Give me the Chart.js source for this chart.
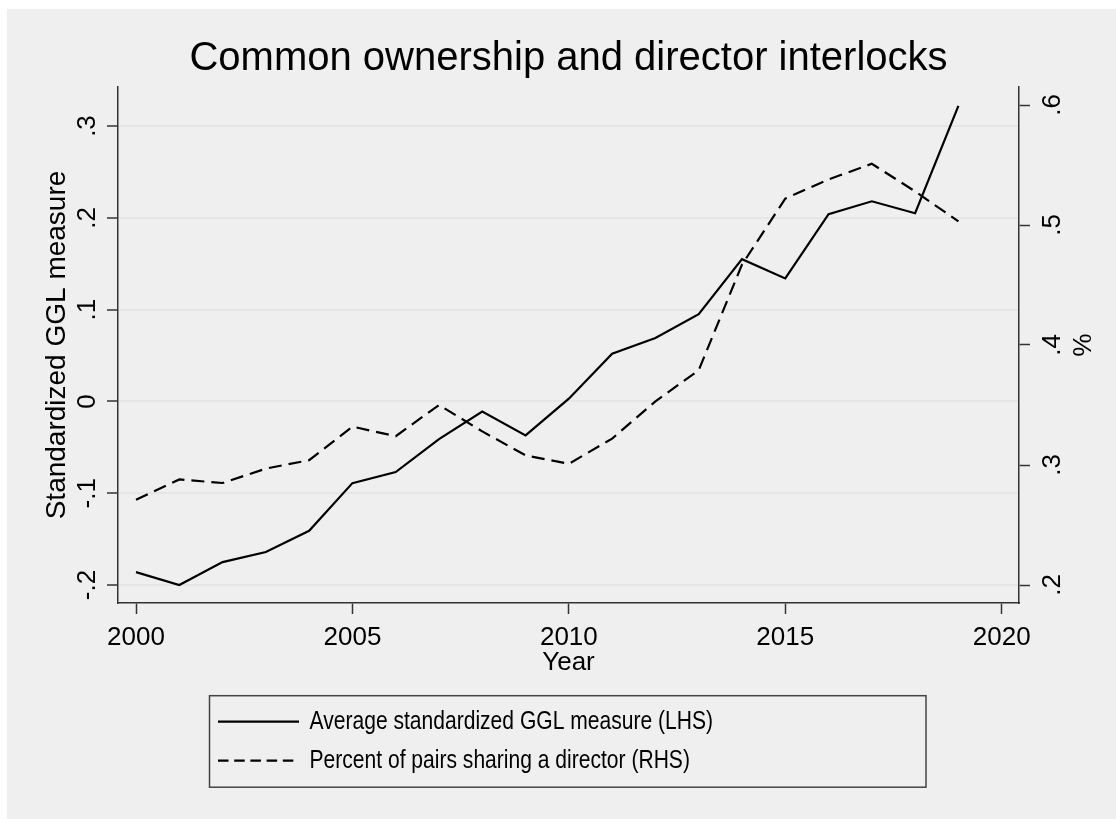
<!DOCTYPE html>
<html><head><meta charset="utf-8">
<script src="https://cdn.jsdelivr.net/npm/chart.js@4.4.0/dist/chart.umd.min.js"></script>
<style>
html,body{margin:0;padding:0;background:#fff;width:1116px;height:819px;overflow:hidden}
#wrap{position:absolute;left:7px;top:9px;width:1109px;height:810px;background:#efefef}
canvas{display:block}
</style></head><body>
<div id="wrap"><canvas id="c" width="1109" height="810"></canvas></div>
<script>
// ---- data ----
const years = [2000,2001,2002,2003,2004,2005,2006,2007,2008,2009,2010,2011,2012,2013,2014,2015,2016,2017,2018,2019];
const gglMeasure = [-0.186,-0.200,-0.175,-0.164,-0.141,-0.089,-0.077,-0.041,-0.011,-0.037,0.003,0.052,0.069,0.095,0.155,0.134,0.204,0.218,0.205,0.322];
const pctSharing = [0.271,0.288,0.285,0.297,0.304,0.332,0.324,0.350,0.328,0.308,0.301,0.322,0.353,0.379,0.467,0.522,0.538,0.551,0.528,0.503];
const xTicks = [2000,2005,2010,2015,2020];
const leftTicks = [-0.2,-0.1,0,0.1,0.2,0.3];
const leftTickLabels = ['-.2','-.1','0','.1','.2','.3'];
const rightTicks = [0.2,0.3,0.4,0.5,0.6];
const rightTickLabels = ['.2','.3','.4','.5','.6'];
const seriesNames = ['Average standardized GGL measure (LHS)','Percent of pairs sharing a director (RHS)'];
const chartTitle = 'Common ownership and director interlocks';

// ---- styles ----
const SANS = "'Liberation Sans', Arial, sans-serif";
const AXIS = '#333333';
const LEGEND_SQUEEZE = 0.81;   // legend text in the reference is a condensed face
const LEGEND_X0 = 211;
Chart.defaults.color = '#000';
Chart.defaults.font.family = SANS;

const legendFrame = {
  id: 'legendFrame',
  afterLayout(chart) {
    const lg = chart.legend;
    const h = lg.height;
    lg.left = LEGEND_X0 - 13; lg.right = lg.left + 721; lg.width = 721;
    lg.top = 686.7; lg.bottom = lg.top + h;
    if (!lg._squeezed) {
      const orig = lg.draw.bind(lg);
      lg.draw = function (area) {
        const ctx = this.ctx;
        ctx.save();
        ctx.translate(LEGEND_X0, 0);
        ctx.scale(LEGEND_SQUEEZE, 1);
        ctx.translate(-LEGEND_X0, 0);
        orig(area);
        ctx.restore();
      };
      lg._squeezed = true;
    }
  },
  afterDraw(chart) {
    const ctx = chart.ctx;
    ctx.save();
    ctx.strokeStyle = '#444';
    ctx.lineWidth = 1.5;
    ctx.strokeRect(202.5, 686.7, 716.5, 91.5);
    ctx.restore();
  }
};

new Chart(document.getElementById('c'), {
  type: 'line',
  data: {
    datasets: [
      {
        label: seriesNames[0],
        data: years.map((y, i) => ({x: y, y: gglMeasure[i]})),
        yAxisID: 'y',
        borderColor: '#000', backgroundColor: '#000',
        borderWidth: 2.2, pointRadius: 0, tension: 0
      },
      {
        label: seriesNames[1],
        data: years.map((y, i) => ({x: y, y: pctSharing[i]})),
        yAxisID: 'y1',
        borderColor: '#000', backgroundColor: '#000',
        borderWidth: 2.2, borderDash: [13, 7], pointRadius: 0, tension: 0
      }
    ]
  },
  options: {
    responsive: false,
    animation: false,
    devicePixelRatio: 1,
    events: [],
    layout: { padding: { left: 14, right: 0, top: 0, bottom: 35.3 } },
    plugins: {
      title: {
        display: true, text: chartTitle, color: '#000',
        font: { family: SANS, size: 40, weight: 'normal', lineHeight: 1.2 },
        padding: { top: 25.5, bottom: 4.5 }
      },
      legend: {
        display: true, position: 'bottom', align: 'start', fullSize: false,
        labels: {
          usePointStyle: true, pointStyle: 'line', pointStyleWidth: 100,
          boxWidth: 100, padding: 13, color: '#000',
          font: { family: SANS, size: 26 },
          generateLabels: (chart) => {
            const items = Chart.defaults.plugins.legend.labels.generateLabels(chart);
            items.forEach((it, i) => {
              const ds = chart.data.datasets[it.datasetIndex ?? i];
              it.lineDash = ds.borderDash ? ds.borderDash.slice() : [];
              it.lineWidth = ds.borderWidth;
              it.strokeStyle = ds.borderColor;
              it.pointStyle = 'line';
            });
            return items;
          }
        }
      },
      tooltip: { enabled: false }
    },
    scales: {
      x: {
        type: 'linear', position: 'bottom', min: 1999.584, max: 2020.4,
        afterBuildTicks: s => { s.ticks = xTicks.map(v => ({value: v})); },
        afterFit: s => { s.height = 92.7; },
        ticks: { autoSkip: false, maxRotation: 0, padding: 8, color: '#000',
                 font: { family: SANS, size: 26 }, callback: v => String(v) },
        grid: { drawOnChartArea: false, tickLength: 11, tickColor: AXIS, tickWidth: 1.5 },
        border: { display: true, color: AXIS, width: 1.5 },
        title: { display: true, text: 'Year', color: '#000',
                 font: { family: SANS, size: 26, lineHeight: 1 }, padding: { top: 0, bottom: 20 } }
      },
      y: {
        type: 'linear', position: 'left', min: -0.2196, max: 0.3425,
        afterBuildTicks: s => { s.ticks = leftTicks.map(v => ({value: v})); },
        afterFit: s => { s.width = 97; },
        ticks: { autoSkip: false, minRotation: 90, maxRotation: 90, crossAlign: 'center', padding: 4,
                 color: '#000', font: { family: SANS, size: 26 },
                 callback: (v, i) => leftTickLabels[i] },
        grid: { color: '#e6e6e6', lineWidth: 2, tickLength: 11, tickColor: AXIS, tickWidth: 1.5 },
        border: { display: true, color: AXIS, width: 1.5 },
        title: { display: true, text: 'Standardized GGL measure', color: '#000',
                 font: { family: SANS, size: 28, lineHeight: 1 }, padding: { top: 22, bottom: 0 } }
      },
      y1: {
        type: 'linear', position: 'right', min: 0.185, max: 0.615,
        afterBuildTicks: s => { s.ticks = rightTicks.map(v => ({value: v})); },
        afterFit: s => { s.width = 97; },
        ticks: { autoSkip: false, minRotation: 90, maxRotation: 90, crossAlign: 'center', padding: 12,
                 color: '#000', font: { family: SANS, size: 26 },
                 callback: (v, i) => rightTickLabels[i] },
        grid: { drawOnChartArea: false, tickLength: 11, tickColor: AXIS, tickWidth: 1.5 },
        border: { display: true, color: AXIS, width: 1.5 },
        title: { display: true, text: '%', color: '#000',
                 font: { family: SANS, size: 26, lineHeight: 1 }, padding: { top: 23, bottom: 0 } }
      }
    }
  },
  plugins: [legendFrame]
});
</script>
</body></html>
